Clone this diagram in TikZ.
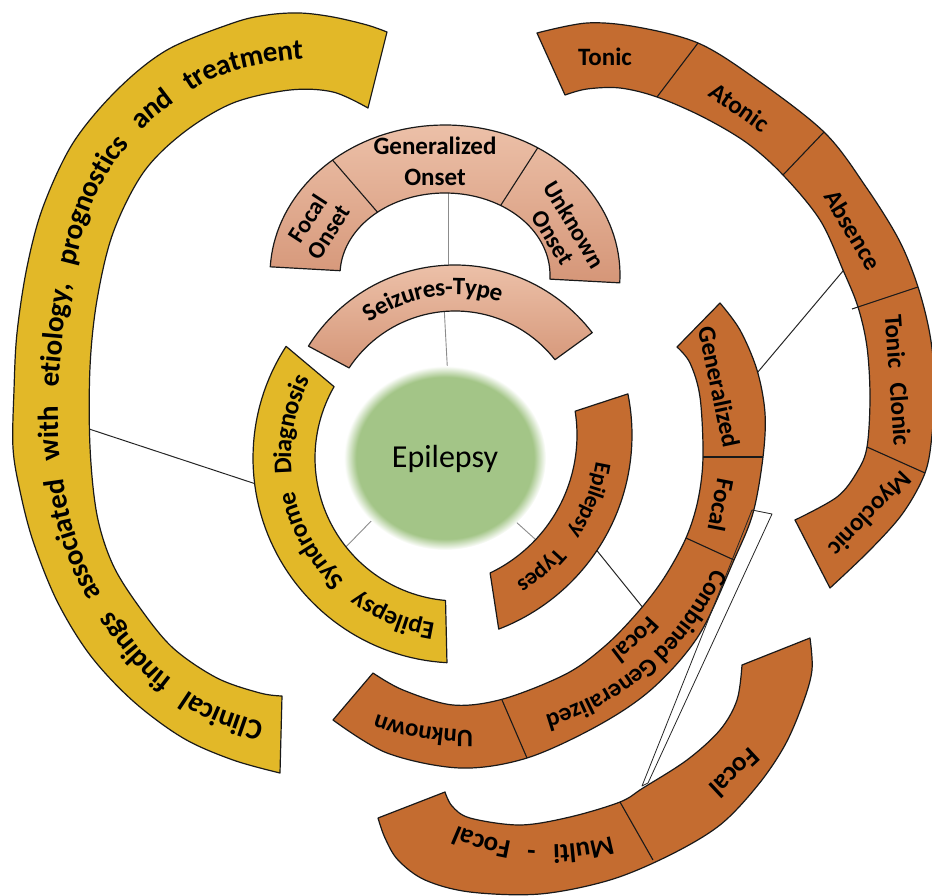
\documentclass[tikz,border=0pt]{standalone}
\usepackage{fontspec}
\setmainfont{Carlito}
\usetikzlibrary{decorations.text}
\definecolor{yel}{RGB}{226,184,40}
\definecolor{brn}{RGB}{196,108,48}
\definecolor{saltop}{RGB}{236,192,168}
\definecolor{salbot}{RGB}{213,150,120}
\definecolor{epig}{RGB}{163,197,135}
\definecolor{gln}{RGB}{140,140,140}
\pgfdeclareradialshading{softgreen}{\pgfpoint{0bp}{0bp}}{color(0bp)=(epig); color(22bp)=(epig); color(25bp)=(white); color(50bp)=(white)}
\newcommand\lblfont{\bfseries\fontsize{25}{27}\selectfont}
\newcommand\smfont{\bfseries\fontsize{23}{25}\selectfont}
\newcommand\bigfont{\bfseries\fontsize{29}{31}\selectfont}
\newcommand\syfont{\bfseries\fontsize{25.5}{27}\selectfont}
\newcommand\mffont{\bfseries\fontsize{27}{29}\selectfont}
% circular sector: cx cy rout rin a1out a2out a1in a2in style
\newcommand\csec[9]{\draw[#9] plot[domain=0:1,samples=60] ({#1+#3*cos((#5)+((#6)-(#5))*\x)},{#2-#3*sin((#5)+((#6)-(#5))*\x)}) -- plot[domain=0:1,samples=60] ({#1+#4*cos((#8)+((#7)-(#8))*\x)},{#2-#4*sin((#8)+((#7)-(#8))*\x)}) -- cycle;}
% circular arc path: cx cy r a1 a2
\newcommand\carc[5]{plot[domain=0:1,samples=60] ({#1+#3*cos((#4)+((#5)-(#4))*\x)},{#2-#3*sin((#4)+((#5)-(#4))*\x)})}
\begin{document}
\begin{tikzpicture}[x=1pt,y=-1pt,
  shp/.style={draw=black!90, line width=1.2pt, line join=round},
  yelshp/.style={shp, fill=yel},
  brnshp/.style={shp, fill=brn},
  salshp/.style={shp, top color=saltop, bottom color=salbot},
  divl/.style={draw=black!90, line width=1.1pt},
  lbl/.style={font=\lblfont, inner sep=0pt, align=center},
  gconn/.style={draw=gln, line width=0.9pt},
  bconn/.style={draw=black!85, line width=1pt}]
\useasboundingbox (0,0) rectangle (932,896);
% connector end points
\coordinate (bigYin) at (80,426);   \coordinate (smYout) at (262,486);
\coordinate (epiSW) at (380,512);   \coordinate (smYin) at (340,553);
\coordinate (seizIn) at (444,305);  \coordinate (epiN) at (448,380);
\coordinate (onsetIn) at (448,185); \coordinate (seizOut) at (448,272);
\coordinate (epiSE) at (505,512);   \coordinate (typIn) at (545,548);
\coordinate (typOut) at (590,542);  \coordinate (midIn) at (648,614);
\coordinate (midOut) at (752,379);  \coordinate (outIn) at (848,265);
\draw[bconn] (bigYin) -- (smYout);
\draw[gconn] (epiSW) -- (smYin);
\draw[gconn] (seizIn) -- (epiN);
\draw[gconn] (onsetIn) -- (seizOut);
\draw[gconn] (epiSE) -- (typIn);
\draw[bconn] (typOut) -- (midIn);
\draw[bconn] (midOut) -- (outIn);
% big yellow arc
\draw[yelshp] plot[smooth, tension=0.55] coordinates {(280,773) (233,760) (183,738) (133,701) (90,655) (57,601) (33,541) (20,491) (13,448) (14,390) (17,333) (27,267) (43,207) (73,143) (117,90) (167,50) (233,23) (267,15) (300,13) (333,17) (367,25) (387,32)} -- plot[smooth, tension=0.55] coordinates {(368,108) (333,92) (290,90) (233,103) (183,133) (143,173) (113,233) (97,300) (90,367) (90,447) (97,515) (113,565) (140,608) (173,648) (217,678) (260,693) (282,696)} -- cycle;
% small yellow arc
\csec{458}{458}{205}{143}{147}{267}{150}{265}{yelshp}
% seizures type
\csec{455}{438}{173}{127}{37.5}{148}{38}{146.5}{salshp}
% onset arc
\draw[salshp] plot[domain=0:1,samples=80] ({445+175*cos(-3+180*\x)},{275-150*sin(-3+180*\x)}) -- plot[domain=0:1,samples=80] ({445+105*cos(177-180*\x)},{275-82*sin(177-180*\x)}) -- cycle;
\draw[divl] ({445+105*cos(58)},{275-82*sin(58)}) -- ({445+175*cos(58)},{275-150*sin(58)});
\draw[divl] ({445+105*cos(130)},{275-82*sin(130)}) -- ({445+175*cos(130)},{275-150*sin(130)});
% epilepsy types
\csec{424}{435}{208}{153}{11.4}{-69}{9}{-64.4}{brnshp}
% right middle arc
\draw[brnshp] plot[smooth, tension=0.55] coordinates {(720,303) (740,330) (757,370) (765,413) (763,457) (753,513) (734,560) (699,635) (653,688) (599,725) (527,758) (460,768) (387,753) (333,720)} -- plot[smooth, tension=0.55] coordinates {(373,673) (403,690) (453,705) (503,699) (566,674) (605,646) (638,612) (664,578) (686,538) (698,500) (703,457) (700,397) (690,363) (677,347)} -- cycle;
\draw[divl] (703,457) -- (763,457);
\draw[divl] (686,538) -- (734,560);
\draw[divl] (502,700) -- (527,758);
% outer brown arc
\draw[brnshp] plot[smooth, tension=0.55] coordinates {(537,33) (587,23) (637,27) (698,43) (753,77) (824,132) (866,187) (899,240) (918,287) (930,335) (935,385) (932,435) (925,473) (903,513) (870,550) (830,588)} -- plot[smooth, tension=0.55] coordinates {(795,520) (837,497) (857,472) (867,447) (870,397) (867,347) (858,307) (843,270) (820,220) (783,175) (747,143) (703,117) (657,97) (620,88) (587,89) (565,95)} -- cycle;
\draw[divl] (657,97) -- (698,43);
\draw[divl] (783,175) -- (824,132);
\draw[divl] (852,309) -- (918,287);
\draw[divl] (867,447) -- (925,473);
% bottom brown arc
\draw[brnshp] plot[smooth, tension=0.55] coordinates {(810,638) (812,670) (803,703) (785,745) (758,785) (720,825) (670,855) (610,880) (540,894) (470,892) (425,880) (398,860) (385,838) (378,818)} -- plot[smooth, tension=0.55] coordinates {(445,792) (452,806) (470,818) (520,825) (570,817) (620,802) (643,788) (687,760) (720,730) (737,700) (742,665)} -- cycle;
\draw[divl] (620,802) -- (653,860);
% thin sliver connector
\coordinate (slA) at (752,510); \coordinate (slB) at (772,514);
\coordinate (slC) at (648,783); \coordinate (slD) at (642,786);
\draw[black!85, line width=0.8pt, line join=round] (slA) -- (slB) -- (slC) -- (slD) -- cycle;
% epilepsy ellipse
\shade[shading=softgreen] (445,458) ellipse [x radius=101pt, y radius=92pt];
\node[font=\fontsize{32}{34}\selectfont, inner sep=0pt, anchor=base] (epi) at (445,467) {Epilepsy};
% curved texts
\path[decorate, decoration={text along path, text align={fit to path stretching spaces}, raise=-8pt, text={|\bigfont|Clinical findings associated with etiology, prognostics and treatment}}] plot coordinates {(262,730) (246,726) (223,718) (200,708) (176,692) (153,674) (133,653) (115,631) (99,607) (85,583) (74,556) (65,528) (57,490) (51,448) (50,390) (55,333) (64,275) (78,220) (91,187) (108,158) (128,133) (150,111) (175,92) (200,76) (216,69) (233,63) (251,58) (270,54) (286,52) (303,51)};
\path[decorate, decoration={text along path, text align={fit to path stretching spaces}, raise=-7pt, text={|\syfont|Epilepsy Syndrome Diagnosis}}] \carc{458}{458}{174}{262}{152};
\path[decorate, decoration={text along path, text align=center, raise=-7pt, text={|\lblfont|Seizures-Type}}] \carc{455}{438}{150}{142}{56};
\path[decorate, decoration={text along path, text align={fit to path stretching spaces}, raise=-7pt, text={|\smfont|Epilepsy Types}}] \carc{424}{435}{181}{-9}{-58};
\path[decorate, decoration={text along path, text align=center, raise=-7pt, text={|\lblfont|Combined Generalized}}] \carc{469}{458}{275}{-20}{-78};
\path[decorate, decoration={text along path, text align=center, raise=-7pt, text={|\lblfont|Focal}}] \carc{469}{458}{246}{-33}{-62};
\path[decorate, decoration={text along path, text align=center, raise=-7pt, text={|\lblfont|Unknown}}] \carc{469}{458}{279}{-82}{-117};
\path[decorate, decoration={text along path, text align={fit to path stretching spaces}, raise=-8pt, text={|\mffont|Multi - Focal}}] \carc{549}{620}{233}{-74}{-114};
% straight labels
\node[lbl, font={\bfseries\fontsize{25}{31}\selectfont}] (genon) at (435,161) {Generalized\\Onset};
\node[lbl, font={\bfseries\fontsize{24}{25}\selectfont}, rotate=57] (focon) at (318,225) {Focal\\Onset};
\node[lbl, font={\bfseries\fontsize{24}{25}\selectfont}, rotate=-59] (unkon) at (564,231) {Unknown\\Onset};
\node[lbl] (tonic) at (605,57) {Tonic};
\node[lbl, rotate=-35] (atonic) at (740,107) {Atonic};
\node[lbl, rotate=-59] (absence) at (853,230) {Absence};
\node[lbl, rotate=-86] (tclonic) at (898,380) {Tonic\hspace{0.6em}Clonic};
\node[lbl, rotate=-134] (myo) at (869,513) {Myoclonic};
\node[lbl, rotate=-78] (gen) at (719,387) {Generalized};
\node[lbl, rotate=-101] (foc) at (721,505) {Focal};
\node[lbl, font={\bfseries\fontsize{27}{29}\selectfont}, rotate=-137] (focb) at (735,773) {Focal};
\end{tikzpicture}
\end{document}
